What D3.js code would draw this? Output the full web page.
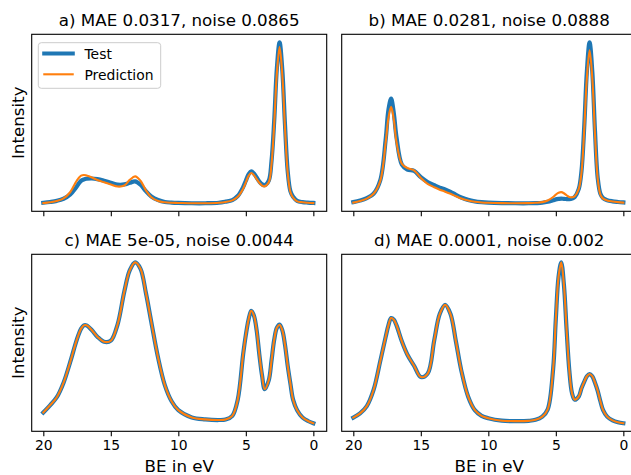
<!DOCTYPE html>
<html>
<head>
<meta charset="utf-8">
<script src="https://cdn.jsdelivr.net/npm/d3@7"></script>
<style>
body { margin: 0; background: #fff; }
svg { display: block; font-family: "DejaVu Sans", sans-serif; }
</style>
</head>
<body>
<svg id="chart" width="631" height="475"></svg>
<script>
(function() {
    'use strict';

    // binding energy grid (eV), shared by all series
    var energies = [20, 19.5, 19, 18.5, 18, 17.6, 17.4, 17.2, 17.0, 16.8, 16.4, 16, 15.5, 15, 14.5,
        14, 13.6, 13.2, 12.8, 12.4, 12, 11.5, 11, 10.5, 10, 9, 8, 7, 6.5, 6, 5.6,
        5.2, 5.0, 4.8, 4.6, 4.4, 4.2, 4.0, 3.8, 3.6, 3.3, 3.1, 2.9, 2.7, 2.5, 2.3,
        2.1, 1.9, 1.7, 1.5, 1.2, 0.8, 0.4, 0];

    var testA = [0.003, 0.008, 0.015, 0.028, 0.055, 0.095, 0.12, 0.14, 0.148, 0.152, 0.154, 0.15, 0.14, 0.128, 0.116,
        0.117, 0.127, 0.136, 0.115, 0.075, 0.042, 0.02, 0.008, 0.004, 0.002, 0, 0, 0.003, 0.01, 0.02, 0.045,
        0.1, 0.14, 0.18, 0.198, 0.185, 0.16, 0.135, 0.118, 0.112, 0.14, 0.26, 0.51, 0.84, 1.0, 0.83,
        0.49, 0.2, 0.075, 0.04, 0.015, 0.007, 0.004, 0.002];
    var predA = [0.001, 0.006, 0.014, 0.03, 0.07, 0.13, 0.155, 0.172, 0.176, 0.172, 0.16, 0.145, 0.13, 0.116, 0.104,
        0.11, 0.145, 0.167, 0.14, 0.08, 0.037, 0.014, 0.006, 0.003, 0.002, 0, 0, 0.003, 0.008, 0.018, 0.04,
        0.09, 0.13, 0.17, 0.188, 0.175, 0.15, 0.127, 0.11, 0.105, 0.13, 0.24, 0.49, 0.81, 0.97, 0.8,
        0.47, 0.19, 0.07, 0.035, 0.012, 0.006, 0.003, 0.001];

    var testB = [0.008, 0.018, 0.033, 0.06, 0.145, 0.40, 0.58, 0.65, 0.56, 0.41, 0.24, 0.21, 0.202, 0.163, 0.133,
        0.113, 0.098, 0.087, 0.072, 0.053, 0.037, 0.022, 0.013, 0.008, 0.005, 0.002, 0.001, 0.001, 0.002, 0.004, 0.01,
        0.02, 0.025, 0.028, 0.03, 0.028, 0.027, 0.026, 0.03, 0.04, 0.09, 0.2, 0.47, 0.82, 1.0, 0.82,
        0.45, 0.16, 0.06, 0.033, 0.02, 0.013, 0.009, 0.006];
    var predB = [0.005, 0.015, 0.03, 0.06, 0.14, 0.38, 0.53, 0.60, 0.52, 0.38, 0.245, 0.22, 0.205, 0.158, 0.122,
        0.1, 0.085, 0.073, 0.06, 0.045, 0.03, 0.018, 0.01, 0.006, 0.004, 0.002, 0.001, 0.002, 0.004, 0.008, 0.018,
        0.04, 0.055, 0.066, 0.07, 0.063, 0.05, 0.04, 0.038, 0.045, 0.09, 0.19, 0.45, 0.78, 0.95, 0.78,
        0.43, 0.155, 0.055, 0.03, 0.018, 0.012, 0.008, 0.005];

    var testC = [0.071, 0.115, 0.165, 0.255, 0.385, 0.50, 0.55, 0.59, 0.61, 0.61, 0.58, 0.54, 0.508, 0.515, 0.615,
        0.82, 0.95, 1.0, 0.96, 0.81, 0.63, 0.41, 0.24, 0.14, 0.085, 0.04, 0.028, 0.024, 0.027, 0.05, 0.15,
        0.43, 0.55, 0.645, 0.70, 0.67, 0.58, 0.43, 0.30, 0.215, 0.27, 0.39, 0.52, 0.595, 0.614, 0.58,
        0.49, 0.36, 0.25, 0.15, 0.085, 0.04, 0.018, 0.004];
    var predC = [0.071, 0.115, 0.165, 0.255, 0.385, 0.50, 0.55, 0.59, 0.61, 0.61, 0.58, 0.54, 0.508, 0.515, 0.615,
        0.82, 0.95, 1.0, 0.96, 0.81, 0.63, 0.41, 0.24, 0.14, 0.085, 0.04, 0.028, 0.024, 0.027, 0.05, 0.15,
        0.43, 0.55, 0.645, 0.70, 0.67, 0.58, 0.43, 0.30, 0.215, 0.27, 0.39, 0.52, 0.595, 0.614, 0.58,
        0.49, 0.36, 0.25, 0.15, 0.085, 0.04, 0.018, 0.004];

    var testD = [0.039, 0.065, 0.11, 0.21, 0.39, 0.54, 0.61, 0.655, 0.645, 0.61, 0.51, 0.43, 0.36, 0.29, 0.31,
        0.52, 0.68, 0.737, 0.68, 0.51, 0.33, 0.17, 0.085, 0.05, 0.035, 0.02, 0.017, 0.019, 0.025, 0.045, 0.09,
        0.34, 0.65, 0.91, 1.0, 0.86, 0.58, 0.33, 0.19, 0.15, 0.17, 0.22, 0.26, 0.295, 0.309, 0.295,
        0.255, 0.205, 0.14, 0.085, 0.045, 0.022, 0.01, 0.004];
    var predD = [0.039, 0.065, 0.11, 0.21, 0.39, 0.54, 0.61, 0.655, 0.645, 0.61, 0.51, 0.43, 0.36, 0.29, 0.31,
        0.52, 0.68, 0.737, 0.68, 0.51, 0.33, 0.17, 0.085, 0.05, 0.035, 0.02, 0.017, 0.019, 0.025, 0.045, 0.09,
        0.34, 0.65, 0.91, 1.0, 0.86, 0.58, 0.33, 0.19, 0.15, 0.17, 0.22, 0.26, 0.295, 0.309, 0.295,
        0.255, 0.205, 0.14, 0.085, 0.045, 0.022, 0.01, 0.004];

    var titles = ["a) MAE 0.0317, noise 0.0865", "b) MAE 0.0281, noise 0.0888",
        "c) MAE 5e-05, noise 0.0044", "d) MAE 0.0001, noise 0.002"];
    var xTicks = [20, 15, 10, 5, 0];
    var seriesNames = ["Test", "Prediction"];

    var blue = "#1f77b4", orange = "#ff7f0e";
    var width = 295, height = 177;

    var panels = [
        {title: titles[0], test: testA, pred: predA, left: 31.7, top: 34.3, xLab: false, yLab: true, legend: true},
        {title: titles[1], test: testB, pred: predB, left: 341.7, top: 34.3, xLab: false, yLab: false},
        {title: titles[2], test: testC, pred: predC, left: 31.7, top: 254.3, xLab: true, yLab: true},
        {title: titles[3], test: testD, pred: predD, left: 341.7, top: 254.3, xLab: true, yLab: false}
    ];

    var svg = d3.select("#chart");

    var x = d3.scaleLinear()
        .domain([20.86, -0.99])
        .range([0, width]);

    panels.forEach(function(p) {
        var all = p.test.concat(p.pred),
            lo = d3.min(all),
            hi = d3.max(all),
            pad = (hi - lo) * 0.05;

        var y = d3.scaleLinear()
            .domain([lo - pad, hi + pad])
            .range([height, 0]);

        var g = svg.append("g")
            .attr("transform", "translate(" + p.left + "," + p.top + ")");

        var line = d3.line()
            .x(function(d, i) { return x(energies[i]); })
            .y(function(d) { return y(d); })
            .curve(d3.curveCatmullRom.alpha(0.5));

        g.append("path")
            .attr("d", line(p.test))
            .attr("fill", "none")
            .attr("stroke", blue)
            .attr("stroke-width", 4.2)
            .attr("stroke-linejoin", "round")
            .attr("stroke-linecap", "square");

        g.append("path")
            .attr("d", line(p.pred))
            .attr("fill", "none")
            .attr("stroke", orange)
            .attr("stroke-width", 2.1)
            .attr("stroke-linejoin", "round")
            .attr("stroke-linecap", "square");

        g.append("rect")
            .attr("width", width)
            .attr("height", height)
            .attr("fill", "none")
            .attr("stroke", "#000")
            .attr("stroke-width", 1.1);

        var xAxis = d3.axisBottom(x)
            .tickValues(xTicks)
            .tickSize(4.9)
            .tickPadding(4.2)
            .tickFormat(p.xLab ? d3.format("d") : function() { return ""; });

        var ax = g.append("g")
            .attr("transform", "translate(0," + height + ")")
            .call(xAxis);
        ax.select(".domain").remove();
        ax.selectAll(".tick line").attr("stroke", "#000").attr("stroke-width", 1.1);
        ax.selectAll(".tick text")
            .attr("fill", "#000")
            .attr("font-family", "DejaVu Sans")
            .attr("font-size", 13.9);

        g.append("text")
            .attr("x", width / 2)
            .attr("y", -8.3)
            .attr("text-anchor", "middle")
            .attr("font-size", 16.7)
            .text(p.title);

        if (p.xLab) {
            g.append("text")
                .attr("x", width / 2)
                .attr("y", 472.5 - p.top)
                .attr("text-anchor", "middle")
                .attr("font-size", 16.7)
                .text("BE in eV");
        }

        if (p.yLab) {
            g.append("text")
                .attr("transform", "translate(" + (23.5 - p.left) + "," + (height / 2) + ") rotate(-90)")
                .attr("text-anchor", "middle")
                .attr("font-size", 16.7)
                .text("Intensity");
        }

        if (p.legend) {
            var lg = g.append("g")
                .attr("transform", "translate(6.6,8.4)");
            lg.append("rect")
                .attr("width", 122.4)
                .attr("height", 45.6)
                .attr("rx", 3)
                .attr("fill", "rgba(255,255,255,0.8)")
                .attr("stroke", "#cccccc")
                .attr("stroke-width", 1);
            var items = lg.selectAll(".item")
                .data(seriesNames)
                .enter().append("g")
                .attr("class", "item")
                .attr("transform", function(d, i) {
                    return "translate(0," + (10.8 + i * 20.8) + ")";
                });
            items.append("line")
                .attr("x1", 6)
                .attr("x2", 34.4)
                .attr("stroke", function(d, i) { return i === 0 ? blue : orange; })
                .attr("stroke-width", function(d, i) { return i === 0 ? 4.2 : 2.1; })
                .attr("stroke-linecap", "square");
            items.append("text")
                .attr("x", 46.2)
                .attr("y", 5.3)
                .attr("font-size", 13.9)
                .text(function(d) { return d; });
        }
    });
})();
</script>
</body>
</html>
